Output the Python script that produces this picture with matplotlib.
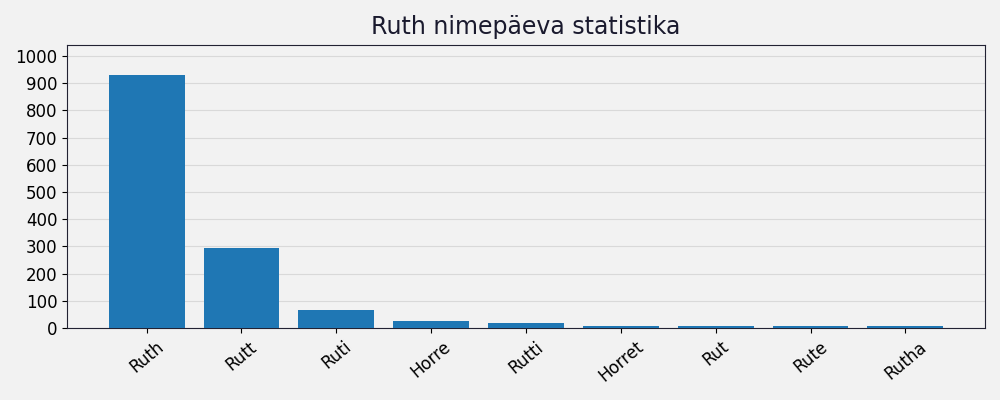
import matplotlib
matplotlib.use("Agg")
import matplotlib.pyplot as plt

names = ["Ruth", "Rutt", "Ruti", "Horre", "Rutti", "Horret", "Rut", "Rute", "Rutha"]
counts = [930, 294, 67, 27, 20, 8, 8, 8, 8]

fig, ax = plt.subplots(figsize=(10, 4), dpi=100)
fig.patch.set_facecolor("#f2f2f2")
ax.set_facecolor("#f2f2f2")

ax.bar(names, counts, width=0.8, color="#1f77b4", zorder=3)
ax.set_ylim(0, 1040)
ax.set_yticks(range(0, 1001, 100))
ax.grid(axis="y", color="#d9d9d9", linewidth=0.8, zorder=0)
ax.set_title("Ruth nimepäeva statistika", fontsize=17, color="#1a1a2e", pad=8)
ax.tick_params(axis="both", labelsize=12)
plt.setp(ax.get_xticklabels(), rotation=40)
for s in ax.spines.values():
    s.set_color("#222233")

plt.subplots_adjust(left=0.067, right=0.985, top=0.8875, bottom=0.18)
plt.savefig("out.png", dpi=100, facecolor=fig.get_facecolor())
